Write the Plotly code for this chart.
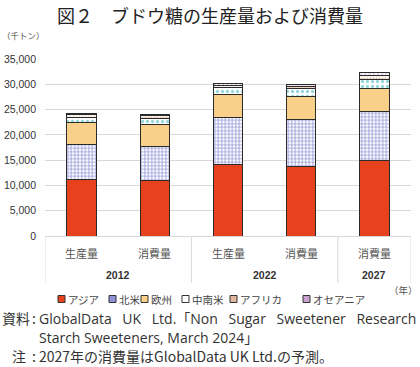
import plotly.graph_objects as go

years = ["2012", "2012", "2022", "2022", "2027"]
kinds = ["生産量", "消費量", "生産量", "消費量", "消費量"]

regions = ["アジア", "北米", "欧州", "中南米", "アフリカ", "オセアニア"]
asia = [11100, 10900, 14100, 13750, 14900]
north_america = [6900, 6800, 9250, 9350, 9700]
europe = [4400, 4300, 4650, 4500, 4600]
latin_america = [1000, 1200, 1300, 1500, 1750]
africa = [600, 650, 550, 550, 850]
oceania = [250, 250, 300, 300, 450]

series = [asia, north_america, europe, latin_america, africa, oceania]
cats = [f"{y} {k}" for y, k in zip(years, kinds)]

fills = ["#E8411D", "white", "#F8D08A", "white", "white", "white"]
patterns = [
    dict(shape=""),
    dict(shape="+", fgcolor="#4048B8", bgcolor="white", size=3.5, solidity=0.5),
    dict(shape=""),
    dict(shape=".", fgcolor="#2FB0B5", bgcolor="white", size=5, solidity=0.35),
    dict(shape=".", fgcolor="#C07850", bgcolor="white", size=3, solidity=0.4),
    dict(shape="x", fgcolor="#A04AA0", bgcolor="white", size=3, solidity=0.4),
]
legend_colors = ["#E8411D", "#8F92D8", "#F8D08A", "#FFFFFF", "#E2B9A0", "#C9A0CF"]

W, H = 420, 367
L, R, T, B = 45, 9, 59, 131
PW, PH = W - L - R, H - T - B

def px(x):
    return (x - L) / PW

def py(y):
    return (H - B - y) / PH

fig = go.Figure()
for name, vals, col, pat in zip(regions, series, fills, patterns):
    fig.add_trace(go.Bar(
        x=cats, y=vals, name=name,
        marker=dict(color=col, pattern=pat, line=dict(color="#2b2b2b", width=1)),
    ))

font_jp = "Noto Sans CJK JP"
fig.update_layout(
    width=W, height=H,
    barmode="stack", bargap=0.6,
    paper_bgcolor="white", plot_bgcolor="white",
    margin=dict(l=L, r=R, t=T, b=B, autoexpand=False),
    font=dict(family=font_jp, size=11, color="#333"),
    showlegend=False,
    yaxis=dict(range=[0, 35000], dtick=5000, tickformat=",", showgrid=True,
               gridcolor="#d9d9d9", gridwidth=1, zeroline=False, showline=False,
               tickfont=dict(size=10.5, color="#333", family="Liberation Sans"),
               ticks="", ticklabelstandoff=8, fixedrange=True),
    xaxis=dict(type="category", range=[-0.5, len(cats) - 0.5], showline=True,
               linecolor="#d9d9d9", ticks="", showticklabels=False, showgrid=False,
               fixedrange=True),
)

ann = []
shapes = []

def add_text(text, x, y, size, xanchor="left", color="#333", family=font_jp, xref="paper"):
    ann.append(dict(text=text, xref=xref, yref="paper",
                    x=px(x) if xref == "paper" else x, y=py(y),
                    xanchor=xanchor, yanchor="middle", showarrow=False,
                    font=dict(size=size, color=color, family=family)))

# category axis labels (inner: kinds, outer: years) + dividers
for i, k in enumerate(kinds):
    add_text(k, i, 252.5, 11, "center", "#555", font_jp, xref="x")
groups = []
for i, y in enumerate(years):
    if groups and groups[-1][0] == y:
        groups[-1][2] = i
    else:
        groups.append([y, i, i])
bounds = [-0.5]
for y, i0, i1 in groups:
    add_text(f"<b>{y}</b>", (i0 + i1) / 2, 275, 10.5, "center", "#333", "Liberation Sans", xref="x")
    bounds.append(i1 + 0.5)
for b in bounds:
    shapes.append(dict(type="line", xref="x", yref="paper", x0=b, x1=b,
                       y0=py(236), y1=py(283), line=dict(color="#d9d9d9", width=1)))

add_text("図２　ブドウ糖の生産量および消費量", 210, 15, 18, "center", "#222")
add_text("（千トン）", 0, 35, 8.5, "left", "#555")
add_text("（年）", 420, 290, 9.5, "right", "#555")

foot_latin = "Open Sans, Noto Sans CJK JP"
sp = " \u2002"
add_text("資料", 0, 318, 14, "left", "#333")
add_text(":", 30, 318, 14, "left", "#333")
add_text(sp.join(["GlobalData", "UK", "Ltd.「Non", "Sugar", "Sweetener", "Research"]),
         37, 318, 14, "left", "#333", foot_latin)
add_text("Starch Sweeteners, March 2024」", 37, 337, 14, "left", "#333", foot_latin)
add_text("注", 28, 356, 14, "right", "#333")
add_text(":", 30, 356, 14, "left", "#333")
add_text("2027年の消費量はGlobalData UK Ltd.の予測。", 37, 356, 14, "left", "#333")

# compact legend
legend_x = [58, 109, 141, 182, 230, 303]
for name, lx, lc in zip(regions, legend_x, legend_colors):
    shapes.append(dict(type="rect", xref="paper", yref="paper",
                       x0=px(lx), x1=px(lx + 7), y0=py(302.5), y1=py(295.5),
                       fillcolor=lc, line=dict(color="#333", width=1)))
    add_text(name, lx + 8, 299, 10.5, "left", "#444")

fig.update_layout(annotations=ann, shapes=shapes)

fig.write_html("out.html", config={"displayModeBar": False},
               post_script="document.body.style.margin='0';document.body.style.padding='0';")
